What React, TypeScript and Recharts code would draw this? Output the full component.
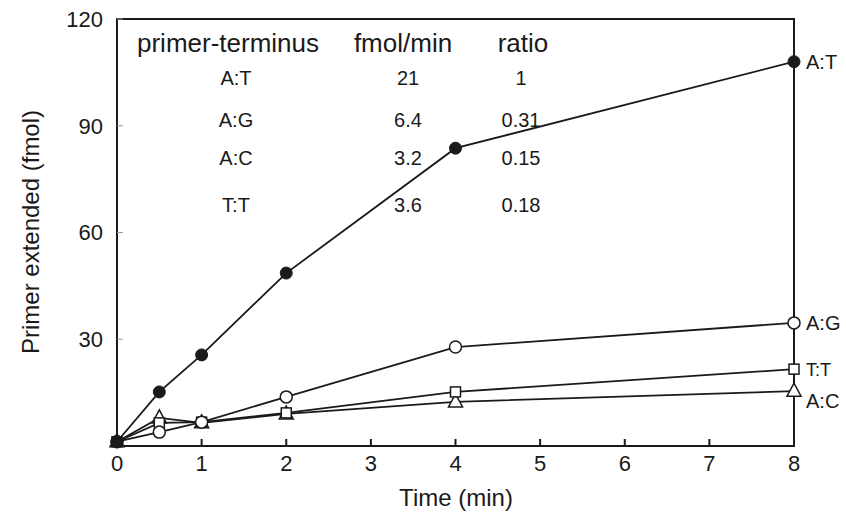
import {
  LineChart,
  Line,
  XAxis,
  YAxis,
  ReferenceArea,
  LabelList,
} from "recharts";

const times = [0, 0.5, 1, 2, 4, 8];
const atValues = [1.2, 15.2, 25.6, 48.6, 83.7, 108];
const agValues = [1.2, 3.9, 6.7, 13.8, 27.8, 34.6];
const ttValues = [1.2, 6.5, 6.7, 9.3, 15.2, 21.6];
const acValues = [1.2, 7.9, 6.5, 9.0, 12.4, 15.4];

const xTicks = [0, 1, 2, 3, 4, 5, 6, 7, 8];
const yTicks = [30, 60, 90, 120];

const tableHeaders = ["primer-terminus", "fmol/min", "ratio"];
const termini = ["A:T", "A:G", "A:C", "T:T"];
const rates = ["21", "6.4", "3.2", "3.6"];
const ratios = ["1", "0.31", "0.15", "0.18"];

const FONT = '"Liberation Sans", Arial, Helvetica, sans-serif';
const INK = "#1a1a1a";

const data = times.map((t, i) => ({
  t,
  at: atValues[i],
  ag: agValues[i],
  tt: ttValues[i],
  ac: acValues[i],
}));

const last = times.length - 1;

function FilledDot({ cx, cy }: any) {
  return <circle cx={cx} cy={cy} r={6} fill={INK} stroke={INK} />;
}

function OpenDot({ cx, cy }: any) {
  return <circle cx={cx} cy={cy} r={6} fill="#fff" stroke={INK} strokeWidth={1.5} />;
}

function SquareDot({ cx, cy }: any) {
  return (
    <rect x={cx - 5} y={cy - 5} width={10} height={10} fill="#fff" stroke={INK} strokeWidth={1.5} />
  );
}

function TriangleDot({ cx, cy }: any) {
  return (
    <polygon
      points={`${cx},${cy - 8} ${cx - 7},${cy + 5} ${cx + 7},${cy + 5}`}
      fill="#fff"
      stroke={INK}
      strokeWidth={1.5}
    />
  );
}

// name printed right of the last point of each series
const endLabel = (name: string, dy = 0, size = 20) => (props: any) => {
  if (props.index !== last) return null;
  return (
    <text
      x={props.x + 12}
      y={props.y + dy}
      dy="0.36em"
      fontSize={size}
      fontFamily={FONT}
      fill={INK}
    >
      {name}
    </text>
  );
};

function Table() {
  const rowY = [78, 120, 158, 205];
  return (
    <g fontFamily={FONT} fill={INK}>
      <text x={137} y={43} dy="0.36em" fontSize={26}>
        {tableHeaders[0]}
      </text>
      <text x={403} y={43} dy="0.36em" fontSize={26} textAnchor="middle">
        {tableHeaders[1]}
      </text>
      <text x={523} y={43} dy="0.36em" fontSize={26} textAnchor="middle">
        {tableHeaders[2]}
      </text>
      {termini.map((name, i) => (
        <g key={name} fontSize={20}>
          <text x={236} y={rowY[i]} dy="0.36em" textAnchor="middle">
            {name}
          </text>
          <text x={408} y={rowY[i]} dy="0.36em" textAnchor="middle">
            {rates[i]}
          </text>
          <text x={521} y={rowY[i]} dy="0.36em" textAnchor="middle">
            {ratios[i]}
          </text>
        </g>
      ))}
    </g>
  );
}

export default function App() {
  return (
    <div style={{ position: "absolute", left: 0, top: 0, background: "#fff" }}>
      <svg
        width={846}
        height={524}
        style={{ position: "absolute", left: 0, top: 0, pointerEvents: "none" }}
      >
        <Table />
        <text
          x={456}
          y={497}
          dy="0.36em"
          textAnchor="middle"
          fontSize={24}
          fontFamily={FONT}
          fill={INK}
        >
          Time (min)
        </text>
        <text
          x={30}
          y={232}
          dy="0.36em"
          textAnchor="middle"
          fontSize={24}
          fontFamily={FONT}
          fill={INK}
          transform="rotate(-90 30 232)"
        >
          Primer extended (fmol)
        </text>
      </svg>
      <LineChart
        width={846}
        height={524}
        data={data}
        margin={{ top: 19, right: 52, bottom: 0, left: 0 }}
      >
        <XAxis
          dataKey="t"
          type="number"
          domain={[0, 8]}
          ticks={xTicks}
          height={78}
          tickSize={-7}
          tickMargin={16}
          stroke={INK}
          strokeWidth={2}
          tick={{ fill: INK, fontSize: 22, fontFamily: FONT }}
        />
        <YAxis
          type="number"
          domain={[0, 120]}
          ticks={yTicks}
          width={117}
          tickSize={-6}
          tickMargin={20}
          stroke={INK}
          strokeWidth={2}
          tickLine={{ stroke: "#999", strokeWidth: 1 }}
          tick={{ fill: INK, fontSize: 22, fontFamily: FONT }}
        />
        <ReferenceArea
          x1={0}
          x2={8}
          y1={0}
          y2={120}
          fill="none"
          fillOpacity={0}
          stroke={INK}
          strokeWidth={2}
        />
        <Line
          dataKey="ac"
          stroke={INK}
          strokeWidth={1.8}
          dot={<TriangleDot />}
          isAnimationActive={false}
        >
          <LabelList dataKey="ac" content={endLabel("A:C", 10)} />
        </Line>
        <Line
          dataKey="tt"
          stroke={INK}
          strokeWidth={1.8}
          dot={<SquareDot />}
          isAnimationActive={false}
        >
          <LabelList dataKey="tt" content={endLabel("T:T", 0, 18)} />
        </Line>
        <Line
          dataKey="ag"
          stroke={INK}
          strokeWidth={1.8}
          dot={<OpenDot />}
          isAnimationActive={false}
        >
          <LabelList dataKey="ag" content={endLabel("A:G")} />
        </Line>
        <Line
          dataKey="at"
          stroke={INK}
          strokeWidth={1.8}
          dot={<FilledDot />}
          isAnimationActive={false}
        >
          <LabelList dataKey="at" content={endLabel("A:T")} />
        </Line>
      </LineChart>
    </div>
  );
}
